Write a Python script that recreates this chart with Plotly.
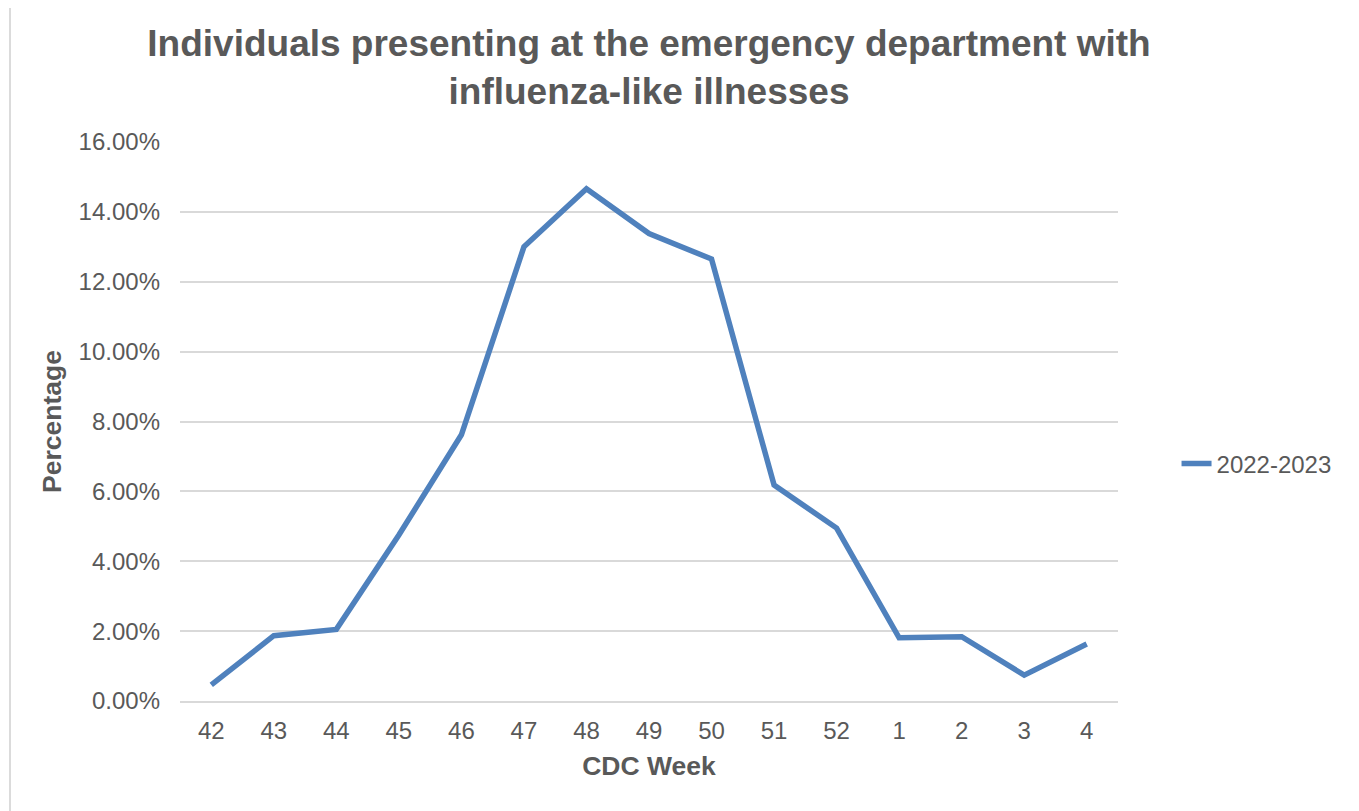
import plotly.graph_objects as go

weeks = ["42", "43", "44", "45", "46", "47", "48", "49", "50", "51", "52", "1", "2", "3", "4"]
pct_2022_2023 = [0.0046, 0.0187, 0.0205, 0.0475, 0.0762, 0.1300, 0.1466, 0.1338, 0.1265,
                 0.0618, 0.0495, 0.0181, 0.0184, 0.0074, 0.0163]
series_name = "2022-2023"

FONT = "Liberation Sans, Arial, sans-serif"
GREY = "#595959"
GRID = "#D9D9D9"

fig = go.Figure()
fig.add_trace(go.Scatter(
    x=weeks, y=pct_2022_2023, mode="lines", name=series_name,
    line=dict(color="#4F81BD", width=5.5),
))

fig.update_layout(
    width=1359, height=811,
    paper_bgcolor="white", plot_bgcolor="white",
    margin=dict(l=172, r=249, t=134, b=118),
    font=dict(family=FONT, color=GREY, size=24),
    title=dict(
        text="<b>Individuals presenting at the emergency department with<br>influenza-like illnesses</b>",
        x=0.5, xanchor="center", xref="paper", yref="container", y=0.941, yanchor="middle",
        font=dict(family=FONT, size=37, color=GREY),
    ),
    showlegend=True,
    legend=dict(x=1.0624, y=0.424, xanchor="left", yanchor="middle",
                font=dict(size=24, color=GREY), bgcolor="rgba(0,0,0,0)"),
    shapes=[dict(type="rect", xref="paper", yref="paper",
                 x0=(10 - 180) / 938, x1=(1354 - 180) / 938,
                 y0=(701 - 815) / 559, y1=(701 + 2) / 559,
                 line=dict(color="#D0D0D0", width=1.5), fillcolor="rgba(0,0,0,0)", layer="above")],
)

fig.update_xaxes(
    type="category", range=[-0.5, 14.5],
    showgrid=False, showline=True, linecolor=GRID, linewidth=1.5,
    ticks="", ticklabelstandoff=7,
    tickfont=dict(size=24, color=GREY),
    title=dict(text="<b>CDC Week</b>", font=dict(size=26.5, color=GREY), standoff=14),
)
fig.update_yaxes(
    range=[0, 0.16], dtick=0.02, tickformat=".2%",
    showgrid=True, gridcolor=GRID, gridwidth=1.5, zeroline=False, showline=False,
    ticks="", ticklabelstandoff=19,
    tickfont=dict(size=24, color=GREY),
    title=dict(text="<b>Percentage</b>", font=dict(size=26.5, color=GREY), standoff=9),
)

fig.write_html("out.html")
